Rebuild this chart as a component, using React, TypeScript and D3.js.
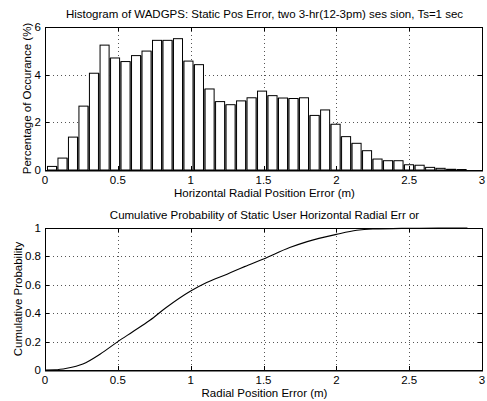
import React from "react";
import * as d3 from "d3";

// ---- Data ----
const binCenters = [
  0.048, 0.120, 0.192, 0.264, 0.336, 0.409, 0.481, 0.553, 0.625, 0.697,
  0.769, 0.841, 0.913, 0.985, 1.057, 1.130, 1.202, 1.274, 1.346, 1.418,
  1.490, 1.562, 1.634, 1.706, 1.778, 1.851, 1.923, 1.995, 2.067, 2.139,
  2.211, 2.283, 2.355, 2.427, 2.499, 2.572, 2.644, 2.716, 2.788, 2.860,
];
const binWidth = 0.0721;
const percentOccurrence = [
  0.15, 0.5, 1.38, 2.68, 4.06, 5.24, 4.7, 4.55, 4.8, 4.99,
  5.44, 5.44, 5.51, 4.57, 4.42, 3.4, 2.87, 2.74, 2.9, 3.03,
  3.31, 3.12, 3.02, 3.0, 3.03, 2.29, 2.52, 1.92, 1.4, 1.12,
  0.81, 0.46, 0.39, 0.39, 0.22, 0.2, 0.11, 0.07, 0.03, 0.02,
];
const cdfX = [0, 0.07, 0.15, 0.26, 0.38, 0.5, 0.6, 0.72, 0.83, 1.0, 1.11, 1.25, 1.37, 1.5, 1.68, 1.8, 2.0, 2.14, 2.25, 2.5, 2.7, 2.9];
const cdfY = [0, 0.001, 0.012, 0.042, 0.113, 0.2, 0.268, 0.35, 0.438, 0.556, 0.616, 0.675, 0.728, 0.782, 0.862, 0.904, 0.955, 0.984, 0.993, 0.998, 1.0, 1.0];

const xTicks = [0, 0.5, 1, 1.5, 2, 2.5, 3];
const histYTicks = [0, 2, 4, 6];
const cdfYTicks = [0, 0.2, 0.4, 0.6, 0.8, 1];

const title1 = "Histogram of WADGPS: Static Pos Error, two 3-hr(12-3pm) ses sion, Ts=1 sec";
const xLabel1 = "Horizontal Radial Position Error (m)";
const yLabel1 = "Percentage of Occurance (%)";
const title2 = "Cumulative Probability of Static User Horizontal Radial Err or";
const xLabel2 = "Radial Position Error (m)";
const yLabel2 = "Cumulative Probability";

const W = 487;
const H = 401;
const FONT = "'Liberation Sans', Arial, Helvetica, sans-serif";
const FS = 11.5;

const left = 45;
const right = 482;

type PanelProps = {
  top: number;
  bottom: number;
  yDomain: [number, number];
  yTicks: number[];
  yFmt: (v: number) => string;
  title: string;
  xLabel: string;
  yLabel: string;
  yLabelX: number;
  children: (x: d3.ScaleLinear<number, number>, y: d3.ScaleLinear<number, number>) => React.ReactNode;
};

function Panel({ top, bottom, yDomain, yTicks, yFmt, title, xLabel, yLabel, yLabelX, children }: PanelProps) {
  const x = d3.scaleLinear().domain([0, 3]).range([left, right]);
  const y = d3.scaleLinear().domain(yDomain).range([bottom, top]);
  const cx = (left + right) / 2 + 1;
  const cy = (top + bottom) / 2;
  const tickLen = 4;
  return (
    <g>
      {/* grid */}
      {xTicks.slice(1, -1).map((t) => (
        <line key={"gx" + t} x1={Math.round(x(t)) + 0.5} x2={Math.round(x(t)) + 0.5} y1={top} y2={bottom}
          stroke="#555" strokeWidth={1} strokeDasharray="1,3" />
      ))}
      {yTicks.slice(1, -1).map((t) => (
        <line key={"gy" + t} y1={Math.round(y(t)) + 0.5} y2={Math.round(y(t)) + 0.5} x1={left} x2={right}
          stroke="#555" strokeWidth={1} strokeDasharray="1,3" />
      ))}
      {children(x, y)}
      {/* box */}
      <rect x={left + 0.5} y={top + 0.5} width={right - left} height={bottom - top} fill="none" stroke="#000" strokeWidth={1} />
      <line x1={left} x2={right + 1} y1={bottom + 1} y2={bottom + 1} stroke="#000" strokeWidth={1} />
      {/* ticks */}
      {xTicks.map((t) => (
        <g key={"tx" + t}>
          <line x1={Math.round(x(t)) + 0.5} x2={Math.round(x(t)) + 0.5} y1={bottom} y2={bottom - tickLen} stroke="#000" />
          <line x1={Math.round(x(t)) + 0.5} x2={Math.round(x(t)) + 0.5} y1={top} y2={top + tickLen} stroke="#000" />
          <text x={x(t)} y={bottom + 13.5} textAnchor="middle" fontFamily={FONT} fontSize={FS}>{d3.format("")(t)}</text>
        </g>
      ))}
      {yTicks.map((t) => (
        <g key={"ty" + t}>
          <line y1={Math.round(y(t)) + 0.5} y2={Math.round(y(t)) + 0.5} x1={left} x2={left + tickLen} stroke="#000" />
          <line y1={Math.round(y(t)) + 0.5} y2={Math.round(y(t)) + 0.5} x1={right} x2={right - tickLen} stroke="#000" />
          <text x={left - 4} y={y(t)} dy="0.35em" textAnchor="end" fontFamily={FONT} fontSize={FS}>{yFmt(t)}</text>
        </g>
      ))}
      <text x={cx} y={top - 9} textAnchor="middle" fontFamily={FONT} fontSize={FS}>{title}</text>
      <text x={cx} y={bottom + 26.5} textAnchor="middle" fontFamily={FONT} fontSize={FS}>{xLabel}</text>
      <text transform={`translate(${yLabelX},${cy}) rotate(-90)`} textAnchor="middle" fontFamily={FONT} fontSize={FS}>{yLabel}</text>
    </g>
  );
}

export default function App() {
  const line = (x: d3.ScaleLinear<number, number>, y: d3.ScaleLinear<number, number>) =>
    d3.line<number>()
      .x((_, i) => x(cdfX[i]))
      .y((d) => y(d))
      .curve(d3.curveMonotoneX)(cdfY) || "";

  return (
    <svg width={W} height={H} style={{ position: "absolute", left: 0, top: 0, background: "#fff" }}>
      <rect width={W} height={H} fill="#fff" />
      <Panel top={27} bottom={170} yDomain={[0, 6]} yTicks={histYTicks} yFmt={(v) => String(v)}
        title={title1} xLabel={xLabel1} yLabel={yLabel1} yLabelX={31}>
        {(x, y) => {
          const half = (x(binWidth) - x(0)) * 0.43;
          const strips = binCenters.slice(0, -1).map((c, i) => {
            const h = Math.min(percentOccurrence[i], percentOccurrence[i + 1]);
            const x0 = x(c) + half;
            const x1 = x(binCenters[i + 1]) - half;
            return <rect key={"s" + i} x={x0} y={y(h)} width={Math.max(0, x1 - x0)} height={y(0) - y(h)} fill="#808080" />;
          });
          const bars = binCenters.map((c, i) => (
            <rect key={"b" + i} x={x(c) - half} y={y(percentOccurrence[i])} width={half * 2}
              height={y(0) - y(percentOccurrence[i])} fill="#fff" stroke="#000" strokeWidth={1} />
          ));
          return <g>{strips}{bars}</g>;
        }}
      </Panel>
      <Panel top={228} bottom={370} yDomain={[0, 1]} yTicks={cdfYTicks} yFmt={(v) => (v === 0 || v === 1 ? String(v) : d3.format(".1f")(v))}
        title={title2} xLabel={xLabel2} yLabel={yLabel2} yLabelX={22}>
        {(x, y) => <path d={line(x, y)} fill="none" stroke="#000" strokeWidth={1.1} />}
      </Panel>
    </svg>
  );
}
